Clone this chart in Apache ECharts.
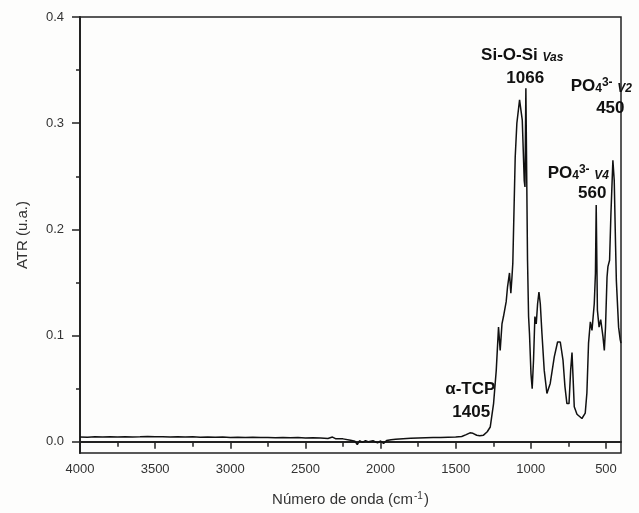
<!DOCTYPE html>
<html>
<head>
<meta charset="utf-8">
<script src="https://cdn.jsdelivr.net/npm/echarts@6/dist/echarts.min.js"></script>
<style>
html,body{margin:0;padding:0;background:#fdfdfc;}
#c{width:639px;height:513px;}
</style>
</head>
<body>
<div id="c"></div>
<script>
// Wavenumber (cm^-1) and ATR values
const wavenumbers = [
 4000,3950,3900,3850,3800,3750,3700,3650,3600,3550,3500,3450,3400,3350,3300,3250,3200,3150,3100,3050,
 3000,2950,2900,2850,2800,2750,2700,2650,2600,2550,2500,2450,2400,2350,2320,2300,2250,2200,2170,2155,
 2140,2120,2100,2080,2050,2020,2000,1980,1960,1930,1900,1850,1800,1750,1700,1650,1600,1550,1500,1460,
 1430,1405,1385,1360,1340,1315,1290,1270,1248,1230,1215,1204,1192,1182,1164,1155,1142,1133,1126,1120,
 1104,1093,1075,1066,1057,1044,1039,1033,1022,1015,1009,999,991,982,973,964,955,946,937,926,
 911,893,871,844,822,804,786,773,760,746,735,726,720,711,693,660,638,627,616,604,
 593,578,570,565,557,546,535,520,511,503,493,487,476,467,454,445,436,431,416,405,400
];
const atr = [
 0.0046,0.0044,0.0047,0.0045,0.0049,0.0046,0.0048,0.0045,0.0047,0.0050,0.0047,0.0049,0.0046,0.0048,0.0045,0.0047,0.0044,0.0046,0.0043,0.0045,
 0.0042,0.0044,0.0041,0.0043,0.0040,0.0042,0.0039,0.0041,0.0038,0.0040,0.0037,0.0039,0.0036,0.0032,0.0045,0.0030,0.0028,0.0015,0.0005,-0.0025,
 0.0010,-0.0005,0.0012,0.0000,0.0010,-0.0010,0.0008,-0.0015,0.0012,0.0020,0.0025,0.0030,0.0033,0.0036,0.0038,0.0040,0.0041,0.0043,0.0045,0.0050,
 0.0068,0.0085,0.0080,0.0062,0.0058,0.0063,0.0095,0.0140,0.0360,0.0675,0.1080,0.0860,0.1110,0.1180,0.1320,0.1460,0.1590,0.1400,0.1540,0.1680,
 0.2680,0.3000,0.3220,0.3230,0.3030,0.2460,0.2400,0.3330,0.1710,0.1180,0.1020,0.0640,0.0500,0.0770,0.1180,0.1110,0.1300,0.1410,0.1300,0.1020,
 0.0675,0.0456,0.0550,0.0800,0.0940,0.0940,0.0770,0.0520,0.0360,0.0360,0.0675,0.0840,0.0640,0.0330,0.0260,0.0220,0.0270,0.0460,0.0930,0.1130,
 0.1050,0.1300,0.1590,0.2230,0.1240,0.1080,0.1150,0.0990,0.0860,0.1080,0.1550,0.1650,0.1710,0.2150,0.2650,0.2460,0.1840,0.1520,0.1080,0.0960,0.0930
];
const xMajorTicks = [500,1000,1500,2000,2500,3000,3500,4000];
const xMinorTicks = [750,1250,1750,2250,2750,3250,3750];
const yMajorTicks = [0,0.1,0.2,0.3,0.4];
const yMinorTicks = [0.05,0.15,0.25,0.35];
// Annotation text lines and their anchor positions in data units
const annotTexts = [
 'Si-O-Si {it|Vas}', '1066',
 'PO{sub|4}{sup|3-} {it|V2}', '450',
 'PO{sub|4}{sup|3-} {it|V4}', '560',
 'α-TCP', '1405'
];
const annotX = [1057,1037,531,471,684,591,1403,1397];
const annotY = [0.3641,0.3424,0.3349,0.3142,0.2530,0.2342,0.0496,0.0280];

const seriesData = wavenumbers.map((w,i)=>[w, atr[i]]);
const font = '"Liberation Sans", Arial, sans-serif';
const axisColor = '#222';
const labelColor = '#333';

const richAnnot = {
  it: {fontSize: 12, fontStyle: 'italic', fontWeight: 'bold', fontFamily: font, color: '#111', verticalAlign: 'bottom', padding:[4,0,0,0]},
  sup: {fontSize: 12, fontWeight: 'bold', fontFamily: font, color: '#111', verticalAlign: 'top', padding:[0,0,6,0]},
  sub: {fontSize: 12, fontWeight: 'bold', fontFamily: font, color: '#111', verticalAlign: 'bottom', padding:[6,0,0,0]}
};

const chart = echarts.init(document.getElementById('c'), null, {renderer: 'canvas'});
chart.setOption({
  animation: false,
  backgroundColor: '#fdfdfc',
  grid: {left: 80, right: 18, top: 17, bottom: 60, show: true, borderColor: axisColor, borderWidth: 1.5, backgroundColor: 'transparent'},
  xAxis: [{
    type: 'value', inverse: true, min: 400, max: 4000,
    axisLine: {show: true, lineStyle: {color: axisColor, width: 2}},
    axisTick: {show: true, customValues: xMajorTicks, length: 7, lineStyle: {color: axisColor, width: 1.5}},
    axisLabel: {show: true, customValues: xMajorTicks, margin: 10, color: labelColor, fontSize: 13, fontFamily: font,
      formatter: v => String(v)},
    splitLine: {show: false},
    name: 'Número de onda (cm{sup|-1})',
    nameLocation: 'middle', nameGap: 38,
    nameTextStyle: {fontSize: 15, color: labelColor, fontFamily: font,
      rich: {sup: {fontSize: 10, color: labelColor, fontFamily: font, verticalAlign: 'top', padding: [0,1,7,1]}}}
  },{
    type: 'value', inverse: true, min: 400, max: 4000, position: 'bottom',
    axisLine: {show: false},
    axisTick: {show: true, customValues: xMinorTicks, length: 5, lineStyle: {color: axisColor, width: 1.5}},
    axisLabel: {show: false},
    splitLine: {show: false}
  }],
  yAxis: [{
    type: 'value', min: -0.0105, max: 0.4,
    axisLine: {show: true, lineStyle: {color: axisColor, width: 2}},
    axisTick: {show: true, customValues: yMajorTicks, length: 8, lineStyle: {color: axisColor, width: 1.5}},
    axisLabel: {show: true, customValues: yMajorTicks, margin: 16, color: labelColor, fontSize: 13, fontFamily: font,
      formatter: v => v.toFixed(1)},
    splitLine: {show: false},
    name: 'ATR (u.a.)', nameLocation: 'middle', nameGap: 50,
    nameTextStyle: {fontSize: 15, color: labelColor, fontFamily: font}
  },{
    type: 'value', min: -0.0105, max: 0.4, position: 'left',
    axisLine: {show: false},
    axisTick: {show: true, customValues: yMinorTicks, length: 4, lineStyle: {color: axisColor, width: 1.5}},
    axisLabel: {show: false},
    splitLine: {show: false}
  }],
  series: [{
    type: 'line',
    data: seriesData,
    showSymbol: false,
    symbol: 'none',
    lineStyle: {color: '#111', width: 1.5},
    markPoint: {
      symbol: 'circle', symbolSize: 0, silent: true,
      label: {show: true, position: 'inside', fontSize: 17, fontWeight: 'bold', fontFamily: font, color: '#111', rich: richAnnot},
      data: annotTexts.map((t,i)=>({coord: [annotX[i], annotY[i]], value: t,
        label: {formatter: t}}))
    }
  }]
});
</script>
</body>
</html>
